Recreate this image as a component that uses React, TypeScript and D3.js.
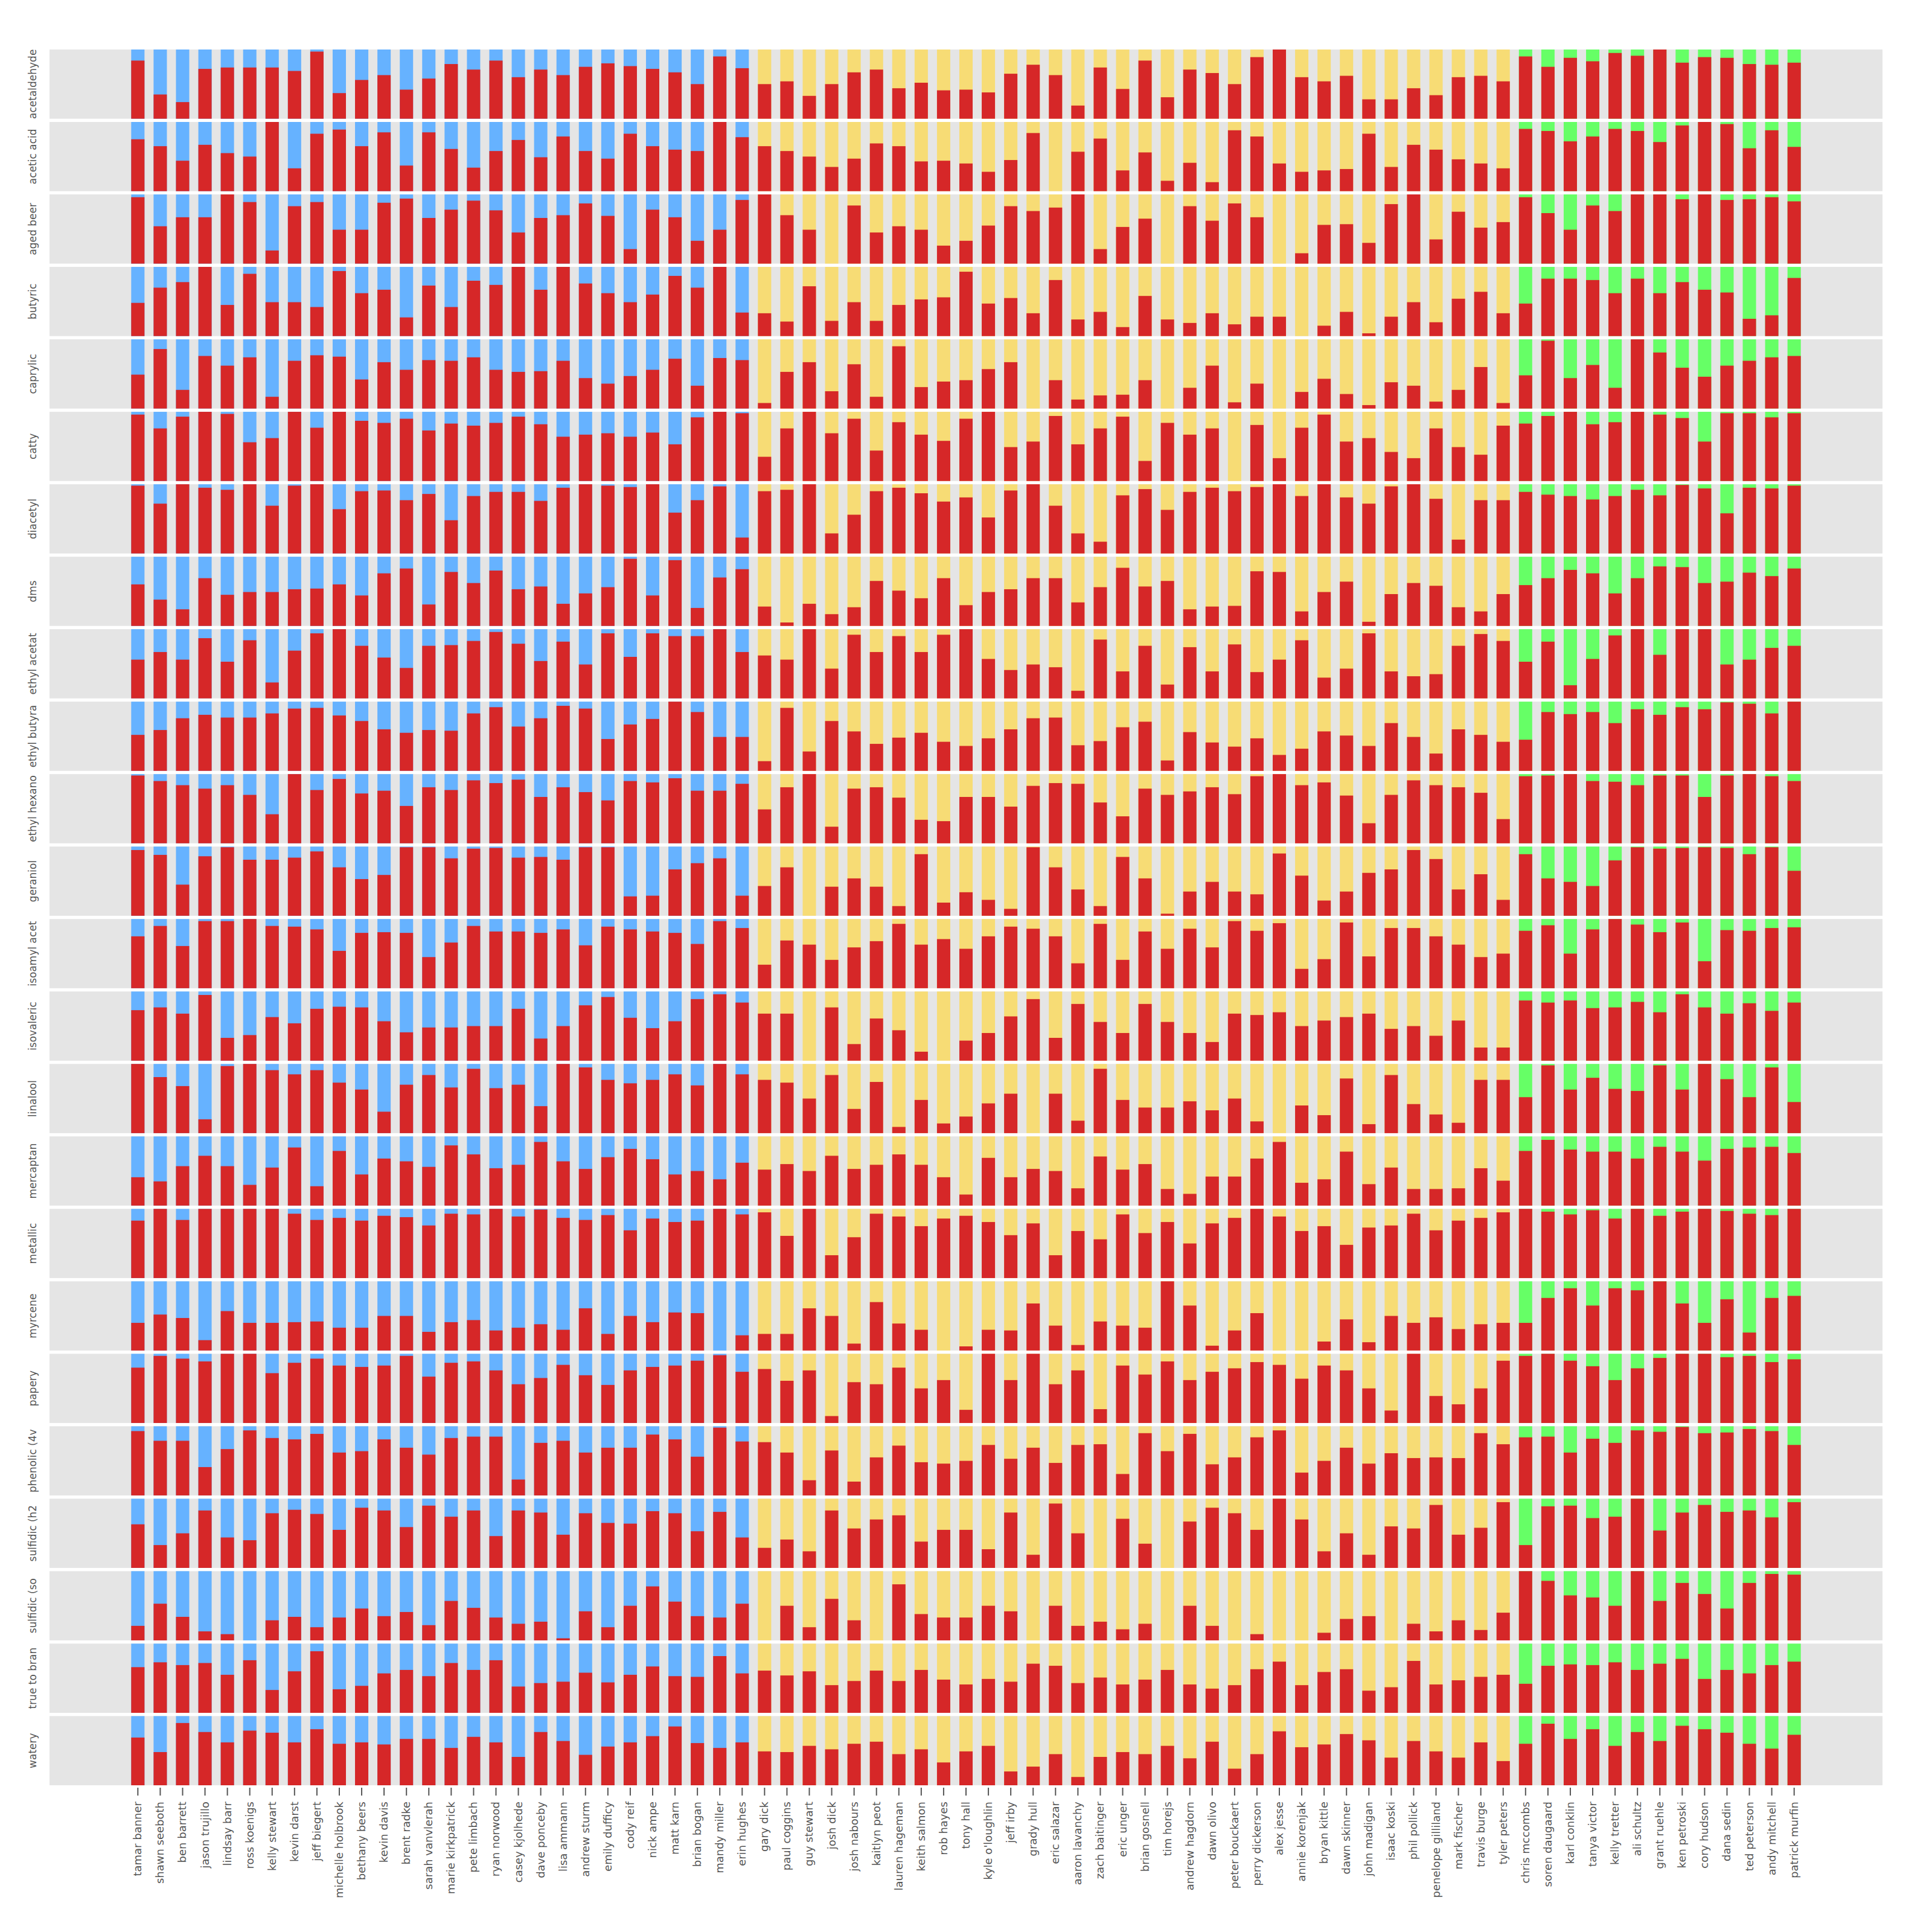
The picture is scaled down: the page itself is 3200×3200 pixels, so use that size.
import * as d3 from "d3"

// tasters, in panel order (colour of the remainder follows the panel)
const blueTasters = [
  "tamar banner", "shawn seeboth", "ben barrett", "jason trujillo", "lindsay barr", "ross koenigs",
  "kelly stewart", "kevin darst", "jeff biegert", "michelle holbrook", "bethany beers", "kevin davis",
  "brent radke", "sarah vanvlerah", "marie kirkpatrick", "pete limbach", "ryan norwood", "casey kjolhede",
  "dave ponceby", "lisa ammann", "andrew sturm", "emily dufficy", "cody reif", "nick ampe", "matt karn",
  "brian bogan", "mandy miller", "erin hughes",
]
const yellowTasters = [
  "gary dick", "paul coggins", "guy stewart", "josh dick", "josh nabours", "kaitlyn peot", "lauren hageman",
  "keith salmon", "rob hayes", "tony hall", "kyle o'loughlin", "jeff irby", "grady hull", "eric salazar",
  "aaron lavanchy", "zach baitinger", "eric unger", "brian gosnell", "tim horejs", "andrew hagdorn",
  "dawn olivo", "peter bouckaert", "perry dickerson", "alex jesse", "annie korenjak", "bryan kittle",
  "dawn skinner", "john madigan", "isaac koski", "phil pollick", "penelope gilliland", "mark fischer",
  "travis burge", "tyler peters",
]
const greenTasters = [
  "chris mccombs", "soren daugaard", "karl conklin", "tanya victor", "kelly tretter", "ali schultz",
  "grant ruehle", "ken petroski", "cory hudson", "dana sedin", "ted peterson", "andy mitchell", "patrick murfin",
]
const tasters = [...blueTasters, ...yellowTasters, ...greenTasters]

const flavors = [
  "acetaldehyde", "acetic acid", "aged beer", "butyric", "caprylic", "catty", "diacetyl", "dms",
  "ethyl acetat", "ethyl butyra", "ethyl hexano", "geraniol", "isoamyl acet", "isovaleric", "linalool",
  "mercaptan", "metallic", "myrcene", "papery", "phenolic (4v", "sulfidic (h2", "sulfidic (so",
  "true to bran", "watery",
]

// red share (%) per taster, one list per flavour
const acetaldehyde = [84,35,24,72,74,74,74,69,97,37,56,63,42,58,79,71,84,60,71,63,75,80,76,72,67,50,90,73,50,54,33,50,67,71,44,52,41,42,38,65,78,63,19,74,43,84,31,71,66,50,89,100,60,54,62,28,28,44,34,60,62,54,90,75,88,83,95,91,100,81,89,88,79,78,81]
const aceticAcid = [75,65,44,67,55,50,100,33,83,89,65,85,37,85,61,34,58,74,49,79,58,47,83,65,60,58,100,78,65,58,50,35,47,69,65,43,44,40,28,45,84,0,57,76,30,56,15,41,13,88,79,40,28,30,32,83,35,67,60,46,40,33,90,87,72,79,90,87,71,95,100,97,62,88,64]
const agedBeer = [96,54,67,67,100,89,19,83,89,49,49,88,94,66,78,91,77,45,66,70,87,69,21,78,67,33,49,92,100,70,49,0,84,45,54,49,26,33,55,83,76,81,100,21,53,65,0,83,62,87,67,0,15,56,57,30,86,100,35,75,52,60,96,73,49,84,76,100,100,93,100,92,93,96,90]
const butyric = [48,70,78,100,45,90,49,49,42,94,62,67,27,73,42,80,74,100,67,100,76,62,49,60,87,70,100,34,33,21,72,22,49,22,45,53,56,93,47,55,33,81,24,35,13,58,24,19,33,17,28,28,0,15,35,4,28,49,20,54,64,33,47,83,83,81,62,83,62,78,67,63,25,30,84]
const caprylic = [49,86,27,76,62,74,17,69,77,75,42,67,56,70,69,74,56,53,54,69,44,36,47,56,72,33,73,70,8,53,67,25,64,17,90,31,39,41,57,67,0,41,13,19,20,41,0,30,62,9,36,0,24,43,21,5,38,33,10,27,60,8,48,98,44,63,30,100,81,59,46,62,69,74,76]
const catty = [96,76,93,100,97,56,62,100,77,100,87,84,90,73,83,80,84,93,82,64,67,69,64,70,53,92,100,98,35,76,100,69,90,44,85,67,58,90,100,49,57,94,53,76,93,29,84,67,76,0,81,33,77,96,57,62,42,33,76,49,38,80,83,94,100,82,85,100,96,91,57,98,98,92,98]
const diacetyl = [98,72,100,95,92,100,69,98,100,64,90,91,77,86,48,83,89,89,76,95,100,98,96,100,59,77,97,23,90,92,100,29,56,90,95,87,75,81,52,91,100,69,29,17,84,93,63,89,95,90,96,100,83,100,81,72,97,100,79,20,77,77,89,85,83,78,83,92,84,99,94,58,95,94,98]
const dms = [60,38,24,69,45,49,49,53,54,60,44,76,83,31,78,62,80,53,57,32,47,56,97,44,95,26,70,82,28,5,32,17,27,65,51,40,69,30,49,53,69,69,34,56,84,57,65,24,28,29,79,78,21,49,64,6,46,62,58,27,21,46,59,69,81,76,47,69,86,85,62,64,77,72,83]
const ethylAcetate = [56,67,56,87,53,84,23,69,94,100,76,59,44,76,77,83,96,79,54,82,49,94,60,94,90,90,100,67,62,56,100,43,92,67,90,67,92,100,57,41,49,45,11,85,39,76,20,74,39,78,38,56,84,30,43,94,39,32,35,76,93,83,53,82,19,57,91,100,63,100,100,49,56,73,76]
const ethylButyrate = [52,59,76,81,77,77,83,90,91,80,72,60,55,59,58,83,92,64,76,94,90,46,67,75,100,85,49,49,14,91,28,72,57,39,48,55,42,36,47,60,76,77,37,43,63,71,15,56,41,35,47,23,32,57,51,36,69,49,25,60,52,42,45,85,82,85,69,89,81,92,89,99,97,83,100]
const ethylHexanoate = [98,90,84,79,84,70,42,100,77,93,72,76,54,81,77,91,87,92,67,81,74,62,90,88,94,76,76,86,49,81,100,24,79,81,66,34,32,67,67,53,83,87,86,59,39,79,70,75,81,71,97,100,84,88,69,29,70,91,84,81,73,35,97,98,100,90,89,84,98,98,67,98,100,97,90]
const geraniol = [95,88,45,86,99,81,81,84,93,70,53,59,99,99,83,97,98,84,85,81,99,99,28,29,67,76,83,29,43,70,0,42,54,42,14,89,19,34,23,10,99,70,38,14,85,54,3,35,49,35,31,90,58,22,35,62,67,95,82,38,60,23,89,54,49,43,80,99,97,98,99,98,89,99,65]
const isoamylAcetate = [75,90,61,97,97,100,90,89,85,54,80,81,80,45,66,90,82,82,80,85,62,89,85,82,80,64,97,87,34,69,63,41,59,68,93,63,71,57,75,89,86,75,36,93,41,82,57,86,59,97,83,94,28,42,95,46,87,87,75,63,45,50,83,91,50,85,100,92,81,95,39,84,83,87,88]
const isovaleric = [73,77,68,95,33,37,63,54,75,78,77,57,41,48,48,50,50,75,32,50,80,92,62,47,57,89,96,84,68,68,0,77,24,61,44,13,0,29,40,64,89,33,82,56,40,82,56,40,27,68,66,70,50,58,63,68,46,50,36,58,19,19,87,84,87,76,77,85,70,96,77,68,83,72,84]
const linalool = [100,81,68,20,97,100,91,85,91,73,63,31,70,84,66,93,65,70,39,100,95,77,72,77,85,69,100,85,77,73,50,84,35,74,9,48,14,24,43,57,0,57,18,93,48,37,37,46,33,50,17,0,40,26,79,13,84,42,27,15,77,77,52,98,63,80,64,61,98,63,100,78,52,95,45]
const mercaptan = [41,35,57,72,57,30,55,84,28,79,45,68,64,56,87,74,54,59,92,64,53,70,82,67,45,50,38,62,52,60,50,72,53,59,74,59,41,16,69,41,53,50,25,71,52,60,24,17,42,42,68,92,33,38,78,31,55,24,24,25,54,36,79,95,81,78,78,68,85,78,65,82,84,85,76]
const metallic = [83,100,84,100,100,100,100,93,84,87,83,90,88,76,93,92,100,89,99,87,84,91,69,86,81,83,100,92,95,61,100,33,59,93,89,75,86,90,81,62,79,33,68,56,92,65,81,50,79,87,100,89,68,75,48,73,76,93,69,83,87,95,100,96,92,98,86,100,90,96,100,97,93,91,100]
const myrcene = [40,52,47,15,57,40,40,41,42,33,33,50,50,27,41,44,29,33,38,30,61,24,50,41,55,54,0,22,24,24,61,50,10,70,39,30,0,6,30,29,68,36,8,42,36,33,100,65,7,29,54,0,0,13,45,12,50,40,48,31,38,40,40,76,90,65,90,87,100,68,40,74,26,76,79]
const papery = [80,97,93,89,100,100,72,87,93,83,81,83,97,67,87,89,76,56,65,84,69,55,76,81,83,90,98,74,78,61,76,10,59,56,80,50,62,19,100,62,100,56,76,20,83,70,89,62,74,79,88,84,64,83,76,50,18,100,39,27,50,90,97,100,90,82,62,79,94,100,100,95,97,88,92]
const phenolic = [93,79,79,41,67,94,83,81,89,62,64,81,69,59,83,85,85,23,76,79,62,69,69,88,81,56,98,78,77,62,22,65,20,55,72,48,46,50,73,53,69,47,73,74,31,90,64,89,45,55,84,94,33,50,69,46,61,54,55,54,90,74,84,85,62,82,76,94,92,99,90,91,96,93,73]
const sulfidicH2s = [63,33,50,83,44,40,79,84,78,55,87,83,59,90,74,83,46,83,80,48,79,65,64,82,79,53,81,44,29,41,24,83,57,70,76,38,55,55,27,80,19,93,50,0,71,35,0,67,87,79,55,100,70,24,50,19,60,57,91,48,58,95,33,89,90,72,74,100,54,80,91,81,83,73,95]
const sulfidicSo2 = [21,53,34,13,9,0,29,34,19,33,46,35,41,22,57,47,33,24,27,3,42,19,50,78,56,35,33,53,0,50,19,60,29,0,81,38,33,33,50,42,0,50,21,27,16,24,0,50,21,0,9,0,0,11,31,35,0,24,13,29,15,40,100,86,65,62,50,100,57,83,67,46,83,96,95]
const trueToBrand = [66,73,69,72,55,76,33,60,89,34,39,57,62,53,72,62,76,38,43,45,58,44,55,67,53,52,82,57,61,54,60,40,46,61,46,62,48,41,49,45,71,68,43,51,41,48,62,41,35,40,63,74,40,59,63,32,37,75,41,47,52,55,42,68,70,69,73,62,71,78,49,62,57,69,74]
const watery = [69,48,90,77,62,79,76,62,81,60,62,59,67,67,54,70,62,41,77,64,44,56,62,71,85,61,54,62,49,48,57,52,60,63,45,52,33,49,57,20,27,45,12,41,48,45,57,39,63,24,45,78,55,59,74,65,40,64,49,40,62,35,60,89,67,81,57,77,64,86,81,76,60,53,73]

const flavorValues = [
  acetaldehyde, aceticAcid, agedBeer, butyric, caprylic, catty, diacetyl, dms, ethylAcetate,
  ethylButyrate, ethylHexanoate, geraniol, isoamylAcetate, isovaleric, linalool, mercaptan, metallic,
  myrcene, papery, phenolic, sulfidicH2s, sulfidicSo2, trueToBrand, watery,
]

const RED = "#d62728"
const groupColor = (name: string) =>
  blueTasters.includes(name) ? "#66b2ff" : yellowTasters.includes(name) ? "#f7dc75" : "#66ff66"

export default function App() {
  const width = 3200
  const height = 3200
  const panel = { left: 82, right: 3118, top: 82, bottom: 2957 }

  const x = d3
    .scaleBand<string>()
    .domain(tasters)
    .range([panel.left, panel.right])
    .paddingInner(0.406)
    .paddingOuter(3.65)

  const rows = d3.scaleBand<string>().domain(flavors).range([panel.top, panel.bottom]).paddingInner(0.045)
  const rowH = rows.bandwidth()
  const y = d3.scaleLinear().domain([0, 100]).range([rowH, 0])

  return (
    <svg
      width={width}
      height={height}
      style={{ position: "absolute", left: 0, top: 0, background: "#fff" }}
      fontFamily="DejaVu Sans"
    >
      {flavors.map((f, i) => (
        <g key={f} transform={`translate(0,${rows(f)})`}>
          <rect x={panel.left} width={panel.right - panel.left} height={rowH} fill="#e5e5e5" />
          {tasters.map((t, j) => {
            const v = flavorValues[i][j]
            return (
              <g key={t}>
                <rect x={x(t)} y={0} width={x.bandwidth()} height={rowH} fill={groupColor(t)} />
                <rect x={x(t)} y={y(v)} width={x.bandwidth()} height={rowH - y(v)} fill={RED} />
              </g>
            )
          })}
          <text
            transform={`translate(60,${rowH / 2}) rotate(-90)`}
            textAnchor="middle"
            fontSize={17}
            fill="#555"
          >
            {f}
          </text>
        </g>
      ))}

      {/* x axis: ticks + rotated names */}
      {tasters.map((t) => {
        const cx = (x(t) || 0) + x.bandwidth() / 2
        return (
          <g key={t}>
            <line x1={cx} x2={cx} y1={2961} y2={2974} stroke="#555" strokeWidth={2} />
            <text
              transform={`translate(${cx + 6},2984) rotate(-90)`}
              textAnchor="end"
              fontSize={18}
              fill="#555"
            >
              {t}
            </text>
          </g>
        )
      })}
    </svg>
  )
}
